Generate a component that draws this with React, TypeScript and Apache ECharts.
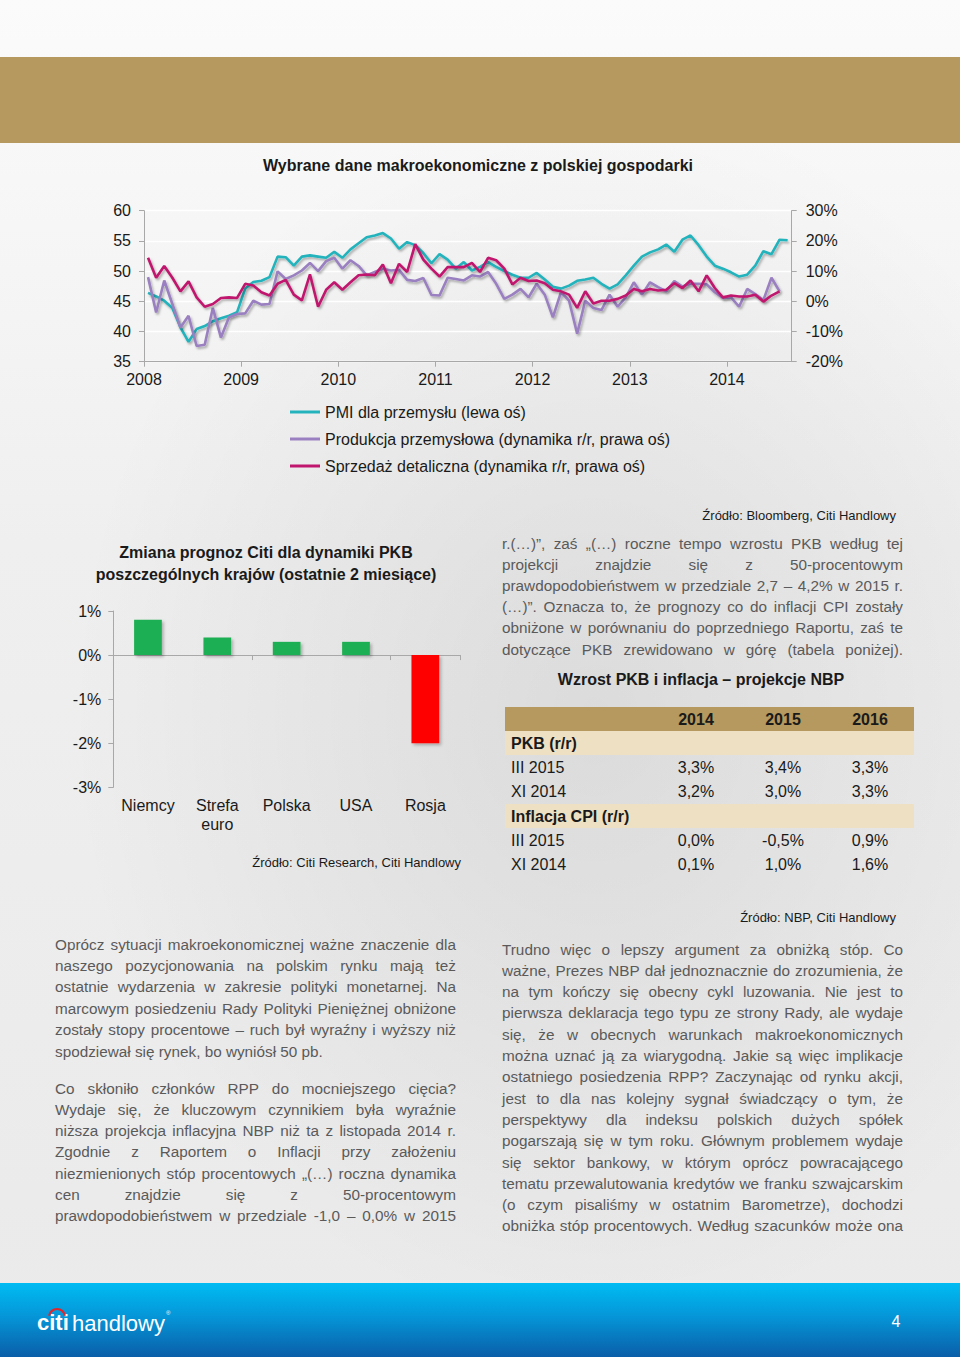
import React, { useEffect, useRef } from 'react';
import * as echarts from 'echarts';

// ---------- DATA ----------
const years = ['2008', '2009', '2010', '2011', '2012', '2013', '2014'];

// PMI dla przemysłu (left axis), monthly Jan 2008 – Aug 2014
const pmi = [
  46.4, 45.8, 45.1, 43.9, 40.7, 38.3, 40.4, 40.9, 41.7, 42.2,
  42.6, 43.2, 47.1, 48.2, 48.4, 49.0, 52.4, 52.3, 50.9, 52.4,
  52.6, 52.4, 52.2, 53.2, 52.2, 53.6, 54.6, 55.6, 55.9, 56.3,
  55.4, 53.7, 54.8, 54.3, 53.0, 51.3, 52.8, 51.9, 50.4, 51.5,
  50.1, 50.7, 51.5, 50.7, 50.0, 49.4, 48.9, 48.9, 49.7, 48.6,
  47.4, 47.1, 47.6, 48.4, 48.6, 48.9, 47.9, 47.1, 47.8, 49.3,
  50.9, 52.4, 53.1, 53.6, 54.4, 53.2, 55.2, 55.9, 54.3, 52.4,
  50.9, 50.4, 49.8, 49.1, 49.4, 50.9, 53.3, 52.8, 55.2, 55.1,
];

// Produkcja przemysłowa r/r % (right axis), Jan 2008 – Jul 2014
const production = [
  8.0, -3.7, 6.9, -0.9, -8.7, -4.8, -14.8, -14.4, -2.2, -12.0,
  -5.3, -4.2, -4.0, 0.2, -1.1, -0.9, 9.9, 7.4, 8.6, 10.2,
  12.7, 10.0, 13.3, 14.4, 10.8, 13.6, 11.7, 8.6, 9.7, 10.8,
  10.2, 10.4, 7.1, 6.7, 7.7, 2.1, 1.9, 7.8, 7.4, 6.9,
  8.6, 8.2, 9.7, 5.8, 0.8, 2.2, 4.1, 1.3, 5.8, 2.2,
  -5.3, 3.0, 0.2, -10.7, 0.2, -2.2, -2.9, 2.2, -1.8, 1.3,
  6.3, 2.2, 6.3, 4.7, 3.3, 6.7, 4.9, 5.8, 5.8, 5.6,
  3.0, 1.1, 1.3, -1.8, 4.1, 2.4, 0.4, 7.8, 3.3,
];

// Sprzedaż detaliczna r/r % (right axis), Jan 2008 – Jul 2014
const retail = [
  14.4, 7.8, 11.7, 7.8, 3.3, 6.6, 1.3, -1.8, -0.9, 1.1,
  1.3, 1.1, 5.8, 5.2, 3.0, 1.9, 5.8, 7.1, 2.2, 0.3,
  8.9, -1.8, 3.8, 6.3, 3.8, 6.3, 8.6, 8.9, 8.6, 12.2,
  6.0, 12.4, 9.7, 18.9, 13.8, 10.8, 8.2, 11.3, 11.3, 11.3,
  12.7, 9.7, 14.4, 13.6, 10.8, 5.6, 7.8, 6.7, 6.9, 6.0,
  3.8, 3.3, 2.2, -2.2, 3.3, -0.7, 0.2, 0.2, 0.8, 1.9,
  4.1, 3.3, 4.1, 3.6, 3.8, 6.0, 4.4, 6.9, 3.3, 8.6,
  4.4, 1.3, 1.9, 1.6, 1.6, 2.2, -0.1, 1.9, 3.3,
];

const seriesNames = [
  'PMI dla przemysłu (lewa oś)',
  'Produkcja przemysłowa (dynamika r/r, prawa oś)',
  'Sprzedaż detaliczna (dynamika r/r, prawa oś)',
];

const countries = ['Niemcy', 'Strefa euro', 'Polska', 'USA', 'Rosja'];
const forecastChange = [0.8, 0.4, 0.3, 0.3, -2.0];

const tableYears = ['2014', '2015', '2016'];
const pkbSection = 'PKB (r/r)';
const pkbRows = [
  ['III 2015', '3,3%', '3,4%', '3,3%'],
  ['XI 2014', '3,2%', '3,0%', '3,3%'],
];
const cpiSection = 'Inflacja CPI (r/r)';
const cpiRows = [
  ['III 2015', '0,0%', '-0,5%', '0,9%'],
  ['XI 2014', '0,1%', '1,0%', '1,6%'],
];

const rightTopText = [
  'r.(…)”, zaś „(…) roczne tempo wzrostu PKB według tej',
  'projekcji znajdzie się z 50-procentowym',
  'prawdopodobieństwem w przedziale 2,7 – 4,2% w 2015 r.',
  '(…)”. Oznacza to, że prognozy co do inflacji CPI zostały',
  'obniżone w porównaniu do poprzedniego Raportu, zaś te',
  'dotyczące PKB zrewidowano w górę (tabela poniżej).',
];
const leftPara1 = [
  'Oprócz sytuacji makroekonomicznej ważne znaczenie dla',
  'naszego pozycjonowania na polskim rynku mają też',
  'ostatnie wydarzenia w zakresie polityki monetarnej. Na',
  'marcowym posiedzeniu Rady Polityki Pieniężnej obniżone',
  'zostały stopy procentowe – ruch był wyraźny i wyższy niż',
  'spodziewał się rynek, bo wyniósł 50 pb.',
];
const leftPara2 = [
  'Co skłoniło członków RPP do mocniejszego cięcia?',
  'Wydaje się, że kluczowym czynnikiem była wyraźnie',
  'niższa projekcja inflacyjna NBP niż ta z listopada 2014 r.',
  'Zgodnie z Raportem o Inflacji przy założeniu',
  'niezmienionych stóp procentowych „(…) roczna dynamika',
  'cen znajdzie się z 50-procentowym',
  'prawdopodobieństwem w przedziale -1,0 – 0,0% w 2015',
];
const rightBottomText = [
  'Trudno więc o lepszy argument za obniżką stóp. Co',
  'ważne, Prezes NBP dał jednoznacznie do zrozumienia, że',
  'na tym kończy się obecny cykl luzowania. Nie jest to',
  'pierwsza deklaracja tego typu ze strony Rady, ale wydaje',
  'się, że w obecnych warunkach makroekonomicznych',
  'można uznać ją za wiarygodną. Jakie są więc implikacje',
  'ostatniego posiedzenia RPP? Zaczynając od rynku akcji,',
  'jest to dla nas kolejny sygnał świadczący o tym, że',
  'perspektywy dla indeksu polskich dużych spółek',
  'pogarszają się w tym roku. Głównym problemem wydaje',
  'się sektor bankowy, w którym oprócz powracającego',
  'tematu przewalutowania kredytów we franku szwajcarskim',
  '(o czym pisaliśmy w ostatnim Barometrze), dochodzi',
  'obniżka stóp procentowych. Według szacunków może ona',
];

// ---------- STYLE ----------
const FONT = '"Liberation Sans", Arial, Helvetica, sans-serif';
const FS = 16;
const BODY_FS = 15.3;
const TXT = '#1a1a1a';
const BODY = '#5a5a5a';
const AXIS = '#a8a8a8';
const CYAN = '#22b3bc';
const PURPLE = '#9a80c0';
const MAGENTA = '#c0166e';
const GREEN = '#1faf52';
const RED = '#ff0000';
const GOLD = '#b5995e';
const BEIGE = '#eee1c3';

export default function App() {
  const ref = useRef<HTMLDivElement>(null);

  useEffect(() => {
    if (!ref.current) return;
    const chart = echarts.init(ref.current, undefined, { renderer: 'svg' });

    const canvas = document.createElement('canvas');
    const ctx = canvas.getContext('2d')!;
    ctx.font = BODY_FS + 'px "Liberation Sans", Arial, sans-serif';
    const measure = (s: string) => ctx.measureText(s).width;

    const txt = (text: string, x: number, y: number, o: any = {}) => ({
      type: 'text',
      x,
      y,
      z: 5,
      silent: true,
      style: {
        text,
        fill: o.fill ?? TXT,
        fontSize: o.size ?? FS,
        fontFamily: FONT,
        fontWeight: o.weight ?? 'normal',
        textAlign: o.align ?? 'left',
        textVerticalAlign: 'middle',
        verticalAlign: 'middle',
      },
    });

    const paragraph = (
      lines: string[],
      x: number,
      y0: number,
      lh: number,
      width: number,
      justifyLast: boolean
    ) => {
      const els: any[] = [];
      const o = { fill: BODY, size: BODY_FS };
      lines.forEach((line, li) => {
        const y = y0 + li * lh;
        const justify = li < lines.length - 1 || justifyLast;
        const words = line.split(' ');
        if (!justify || words.length < 2) {
          els.push(txt(line, x, y, o));
          return;
        }
        const ws = words.map(measure);
        const total = ws.reduce((a, b) => a + b, 0);
        const gap = (width - total) / (words.length - 1);
        let cx = x;
        words.forEach((w, i) => {
          els.push(txt(w, cx, y, o));
          cx += ws[i] + gap;
        });
      });
      return els;
    };

    // table
    const colX = [696, 783, 870];
    const tableEls: any[] = [];
    tableEls.push({ type: 'rect', z: 3, silent: true, shape: { x: 505, y: 707, width: 409, height: 24 }, style: { fill: GOLD } });
    tableYears.forEach((yr, i) => tableEls.push(txt(yr, colX[i], 719, { weight: 'bold', align: 'center' })));
    const sectionY = [743, 816];
    [pkbSection, cpiSection].forEach((s, si) => {
      tableEls.push({ type: 'rect', z: 3, silent: true, shape: { x: 505, y: sectionY[si] - 12, width: 409, height: 24 }, style: { fill: BEIGE } });
      tableEls.push(txt(s, 511, sectionY[si], { weight: 'bold' }));
      const rows = si === 0 ? pkbRows : cpiRows;
      rows.forEach((r, ri) => {
        const y = sectionY[si] + 24 * (ri + 1);
        tableEls.push(txt(r[0], 511, y));
        for (let c = 1; c < 4; c++) tableEls.push(txt(r[c], colX[c - 1], y, { align: 'center' }));
      });
    });

    const graphics: any[] = [
      // page background
      {
        type: 'rect', z: -10, silent: true, shape: { x: 0, y: 0, width: 960, height: 1357 },
        style: { fill: new echarts.graphic.LinearGradient(0, 0, 0, 1, [
          { offset: 0, color: '#fbfbfb' }, { offset: 0.4, color: '#efefef' }, { offset: 1, color: '#eaeaea' },
        ]) },
      },
      {
        type: 'rect', z: -9, silent: true, shape: { x: 0, y: 150, width: 960, height: 1130 },
        style: { fill: new echarts.graphic.RadialGradient(0.62, 0.5, 0.55, [
          { offset: 0, color: 'rgba(0,0,0,0.08)' }, { offset: 1, color: 'rgba(0,0,0,0)' },
        ]) },
      },
      { type: 'rect', z: -8, silent: true, shape: { x: 0, y: 57, width: 960, height: 86 }, style: { fill: GOLD } },
      // footer
      {
        type: 'rect', z: -8, silent: true, shape: { x: 0, y: 1283, width: 960, height: 74 },
        style: { fill: new echarts.graphic.LinearGradient(0, 0, 0, 1, [
          { offset: 0, color: '#00bcf2' }, { offset: 0.45, color: '#0596d8' }, { offset: 1, color: '#0a5ea8' },
        ]) },
      },
      txt('citi', 37, 1322, { fill: '#ffffff', size: 22, weight: 'bold' }),
      txt('handlowy', 72, 1323, { fill: '#ffffff', size: 22 }),
      txt('®', 166, 1313, { fill: '#ffffff', size: 6 }),
      {
        type: 'arc', z: 6, silent: true,
        shape: { cx: 57, cy: 1317, r: 8, startAngle: Math.PI * 1.05, endAngle: Math.PI * 1.95, clockwise: true },
        style: { stroke: '#e0262b', lineWidth: 2.2, fill: 'none' },
      },
      txt('4', 896, 1321, { fill: '#ffffff', size: 16, align: 'center' }),
      // titles and sources
      txt('Wybrane dane makroekonomiczne z polskiej gospodarki', 478, 165, { weight: 'bold', align: 'center' }),
      txt('Źródło: Bloomberg, Citi Handlowy', 896, 515, { size: 13, align: 'right' }),
      txt('Zmiana prognoz Citi dla dynamiki PKB', 266, 552, { weight: 'bold', align: 'center' }),
      txt('poszczególnych krajów (ostatnie 2 miesiące)', 266, 574, { weight: 'bold', align: 'center' }),
      txt('Źródło: Citi Research, Citi Handlowy', 461, 862, { size: 13, align: 'right' }),
      txt('Wzrost PKB i inflacja – projekcje NBP', 701, 679, { weight: 'bold', align: 'center' }),
      txt('Źródło: NBP, Citi Handlowy', 896, 917, { size: 13, align: 'right' }),
      ...tableEls,
      ...paragraph(rightTopText, 502, 543, 21.2, 401, true),
      ...paragraph(leftPara1, 55, 944, 21.4, 401, false),
      ...paragraph(leftPara2, 55, 1088, 21.3, 401, true),
      ...paragraph(rightBottomText, 502, 949, 21.3, 401, true),
    ];

    const lineShadow = { shadowColor: 'rgba(0,0,0,0.3)', shadowBlur: 2, shadowOffsetX: 1.5, shadowOffsetY: 2 };
    const axisLabelStyle = { fontSize: FS, color: TXT, fontFamily: FONT };

    const option: any = {
      animation: false,
      backgroundColor: 'transparent',
      graphic: { elements: graphics },
      legend: {
        show: true,
        orient: 'vertical',
        left: 290,
        top: 403,
        padding: 0,
        itemWidth: 30,
        itemHeight: 3,
        itemGap: 9,
        icon: 'rect',
        data: seriesNames,
        textStyle: { fontSize: FS, color: TXT, fontFamily: FONT, lineHeight: 18 },
      },
      grid: [
        { left: 144, top: 210.7, width: 647.7, height: 151 },
        { left: 113.3, top: 611, width: 346.7, height: 176.3 },
      ],
      xAxis: [
        {
          type: 'value', gridIndex: 0, min: 0, max: 80, interval: 12,
          axisLine: { show: true, onZero: false, lineStyle: { color: AXIS } },
          axisTick: { show: true, length: 5, lineStyle: { color: AXIS } },
          splitLine: { show: false },
          axisLabel: {
            ...axisLabelStyle, margin: 10, showMaxLabel: false,
            formatter: (v: number) => (v % 12 === 0 && years[v / 12] ? years[v / 12] : ''),
          },
        },
        {
          type: 'category', gridIndex: 1, position: 'top', data: countries,
          axisLine: { show: true, onZero: true, lineStyle: { color: AXIS } },
          axisTick: { show: true, inside: true, length: 5, lineStyle: { color: AXIS } },
          axisLabel: { show: false },
          splitLine: { show: false },
        },
        {
          type: 'category', gridIndex: 1, position: 'bottom', data: countries,
          axisLine: { show: false, onZero: false },
          axisTick: { show: false },
          splitLine: { show: false },
          axisLabel: {
            ...axisLabelStyle, margin: 9, lineHeight: 19, interval: 0,
            formatter: (v: string) => v.replace(' ', '\n'),
          },
        },
      ],
      yAxis: [
        {
          type: 'value', gridIndex: 0, position: 'left', min: 35, max: 60, interval: 5,
          axisLine: { show: true, onZero: false, lineStyle: { color: AXIS } },
          axisTick: { show: true, length: 5, lineStyle: { color: AXIS } },
          splitLine: { show: true, lineStyle: { color: '#ffffff', width: 1.3 } },
          axisLabel: { ...axisLabelStyle, margin: 13 },
        },
        {
          type: 'value', gridIndex: 0, position: 'right', min: -20, max: 30, interval: 10,
          axisLine: { show: true, onZero: false, lineStyle: { color: AXIS } },
          axisTick: { show: true, length: 5, lineStyle: { color: AXIS } },
          splitLine: { show: false },
          axisLabel: { ...axisLabelStyle, margin: 14, formatter: '{value}%' },
        },
        {
          type: 'value', gridIndex: 1, position: 'left', min: -3, max: 1, interval: 1,
          axisLine: { show: true, onZero: false, lineStyle: { color: AXIS } },
          axisTick: { show: true, length: 5, lineStyle: { color: AXIS } },
          splitLine: { show: false },
          axisLabel: { ...axisLabelStyle, margin: 12, formatter: '{value}%' },
        },
      ],
      series: [
        {
          name: seriesNames[0], type: 'line', xAxisIndex: 0, yAxisIndex: 0,
          data: pmi.map((v, i) => [i + 0.5, v]),
          showSymbol: false, symbol: 'none',
          lineStyle: { color: CYAN, width: 2.6, ...lineShadow },
          itemStyle: { color: CYAN },
        },
        {
          name: seriesNames[1], type: 'line', xAxisIndex: 0, yAxisIndex: 1,
          data: production.map((v, i) => [i + 0.5, v]),
          showSymbol: false, symbol: 'none',
          lineStyle: { color: PURPLE, width: 2.6, ...lineShadow },
          itemStyle: { color: PURPLE },
        },
        {
          name: seriesNames[2], type: 'line', xAxisIndex: 0, yAxisIndex: 1,
          data: retail.map((v, i) => [i + 0.5, v]),
          showSymbol: false, symbol: 'none',
          lineStyle: { color: MAGENTA, width: 2.6, ...lineShadow },
          itemStyle: { color: MAGENTA },
        },
        {
          name: 'Zmiana prognozy PKB', type: 'bar', xAxisIndex: 1, yAxisIndex: 2,
          data: forecastChange, barWidth: '40%',
          itemStyle: {
            color: (p: any) => (p.value < 0 ? RED : GREEN),
            shadowColor: 'rgba(0,0,0,0.25)', shadowBlur: 3, shadowOffsetX: 2, shadowOffsetY: 2,
          },
        },
      ],
    };

    chart.setOption(option);
    return () => chart.dispose();
  }, []);

  return (
    <div
      ref={ref}
      style={{ position: 'absolute', left: 0, top: 0, width: 960, height: 1357, overflow: 'hidden' }}
    />
  );
}
